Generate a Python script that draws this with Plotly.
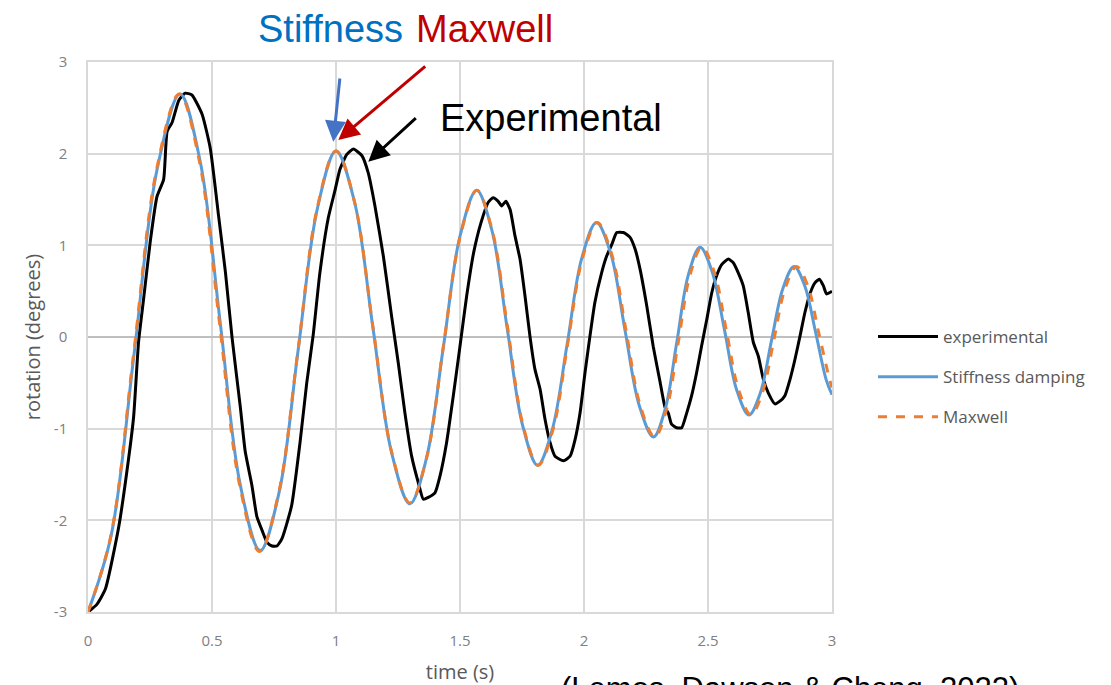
import plotly.graph_objects as go

# ---------------- data ----------------
exp_t = [0.000, 0.035, 0.070, 0.124, 0.164, 0.184, 0.204, 0.224, 0.251, 0.278, 0.305, 0.319, 0.339, 0.366,
         0.392, 0.419, 0.460, 0.493, 0.527, 0.554, 0.581, 0.614, 0.634, 0.661, 0.681, 0.702, 0.722, 0.742,
         0.762, 0.782, 0.821, 0.855, 0.882, 0.908, 0.935, 0.969, 0.996, 1.016, 1.043, 1.070, 1.104, 1.130,
         1.157, 1.191, 1.224, 1.251, 1.278, 1.305, 1.332, 1.352, 1.372, 1.399, 1.419, 1.446, 1.473, 1.500,
         1.527, 1.555, 1.585, 1.614, 1.634, 1.654, 1.668, 1.685, 1.702, 1.722, 1.742, 1.762, 1.782, 1.802,
         1.823, 1.843, 1.863, 1.883, 1.917, 1.944, 1.964, 1.984, 2.004, 2.024, 2.044, 2.071, 2.091, 2.112,
         2.132, 2.159, 2.185, 2.206, 2.226, 2.253, 2.279, 2.306, 2.327, 2.340, 2.353, 2.374, 2.394, 2.414,
         2.434, 2.454, 2.474, 2.495, 2.515, 2.535, 2.555, 2.582, 2.602, 2.622, 2.642, 2.662, 2.683, 2.703,
         2.723, 2.743, 2.770, 2.790, 2.810, 2.831, 2.851, 2.871, 2.891, 2.911, 2.931, 2.949, 2.965, 2.978,
         3.000]
exp_v = [-3.00, -2.92, -2.75, -2.07, -1.32, -0.87, -0.05, 0.41, 1.04, 1.53, 1.72, 2.24, 2.34, 2.58,
         2.66, 2.64, 2.43, 2.06, 1.31, 0.71, -0.01, -0.76, -1.25, -1.62, -1.96, -2.11, -2.24, -2.28,
         -2.28, -2.20, -1.84, -1.15, -0.50, 0.02, 0.70, 1.30, 1.60, 1.83, 1.99, 2.05, 1.98, 1.79,
         1.43, 0.88, 0.23, -0.28, -0.83, -1.30, -1.59, -1.77, -1.75, -1.70, -1.52, -1.15, -0.64, -0.10,
         0.45, 0.92, 1.25, 1.47, 1.52, 1.48, 1.43, 1.48, 1.39, 1.10, 0.85, 0.45, 0.01, -0.35,
         -0.57, -0.90, -1.15, -1.30, -1.35, -1.30, -1.12, -0.83, -0.39, 0.01, 0.38, 0.70, 0.88, 1.01,
         1.14, 1.14, 1.09, 0.96, 0.74, 0.34, -0.10, -0.48, -0.77, -0.83, -0.95, -0.99, -0.99, -0.83,
         -0.64, -0.39, -0.10, 0.19, 0.48, 0.67, 0.79, 0.85, 0.81, 0.70, 0.56, 0.27, -0.06, -0.21,
         -0.46, -0.61, -0.73, -0.70, -0.64, -0.46, -0.24, 0.01, 0.27, 0.47, 0.59, 0.63, 0.56, 0.47,
         0.50]

stiff_t = [0.000, 0.093, 0.186, 0.278, 0.371, 0.452, 0.533, 0.613, 0.694, 0.771, 0.847, 0.924, 1.000,
           1.075, 1.149, 1.224, 1.298, 1.365, 1.433, 1.500, 1.567, 1.629, 1.690, 1.752, 1.813, 1.872,
           1.932, 1.991, 2.050, 2.108, 2.165, 2.223, 2.280, 2.327, 2.374, 2.421, 2.468, 2.517, 2.567,
           2.616, 2.665, 2.711, 2.756, 2.802, 2.847, 2.890, 2.934, 2.977, 3.000]
stiff_v = [-3.00, -2.17, -0.18, 1.82, 2.65, 1.92, 0.16, -1.60, -2.33, -1.69, -0.15, 1.39, 2.03,
           1.47, 0.10, -1.26, -1.82, -1.32, -0.11, 1.10, 1.60, 1.16, 0.10, -0.96, -1.40, -1.01,
           -0.08, 0.86, 1.25, 0.91, 0.08, -0.75, -1.09, -0.79, -0.06, 0.68, 0.98, 0.71, 0.07,
           -0.58, -0.85, -0.61, -0.04, 0.53, 0.77, 0.56, 0.05, -0.47, -0.63]

maxw_t = [0.000, 0.092, 0.184, 0.276, 0.368, 0.449, 0.530, 0.611, 0.692, 0.769, 0.846, 0.923, 1.000,
          1.075, 1.149, 1.224, 1.298, 1.366, 1.433, 1.501, 1.568, 1.630, 1.692, 1.754, 1.815, 1.875,
          1.934, 1.994, 2.053, 2.111, 2.169, 2.227, 2.285, 2.333, 2.380, 2.428, 2.475, 2.525, 2.574,
          2.624, 2.673, 2.719, 2.765, 2.811, 2.857, 2.902, 2.946, 2.991, 3.000]
maxw_v = [-3.00, -2.17, -0.18, 1.82, 2.65, 1.92, 0.16, -1.61, -2.34, -1.70, -0.16, 1.39, 2.03,
          1.47, 0.11, -1.25, -1.81, -1.31, -0.10, 1.10, 1.60, 1.16, 0.10, -0.96, -1.40, -1.01,
          -0.08, 0.86, 1.25, 0.91, 0.08, -0.75, -1.09, -0.79, -0.06, 0.68, 0.98, 0.71, 0.07,
          -0.58, -0.85, -0.61, -0.04, 0.53, 0.77, 0.56, 0.05, -0.47, -0.55]

x_ticks = [0, 0.5, 1, 1.5, 2, 2.5, 3]
x_tick_labels = ["0", "0.5", "1", "1.5", "2", "2.5", "3"]
y_ticks = [-3, -2, -1, 0, 1, 2, 3]
y_tick_labels = ["-3", "-2", "-1", "0", "1", "2", "3"]

series_names = ["experimental", "Stiffness damping", "Maxwell"]

# ---------------- figure ----------------
W, H = 1111, 685
L, R, T, B = 88, 832, 62, 612  # plot area in px


def px(xp):
    return (xp - L) / (R - L)


def py(yp):
    return (B - yp) / (B - T)


GRID = "#d9d9d9"
SANS = "Open Sans, Liberation Sans, sans-serif"
TICKFONT = dict(family=SANS, size=15, color="#7f7f7f")

fig = go.Figure()
fig.add_trace(go.Scatter(x=exp_t, y=exp_v, mode="lines", name=series_names[0], legendgroup="a",
                         line=dict(color="#000000", width=3, shape="spline", smoothing=0.5)))
fig.add_trace(go.Scatter(x=stiff_t, y=stiff_v, mode="lines", name=series_names[1], legendgroup="b",
                         line=dict(color="#5b9bd5", width=3, shape="spline", smoothing=1.0)))
fig.add_trace(go.Scatter(x=maxw_t, y=maxw_v, mode="lines", name=series_names[2], legendgroup="c",
                         line=dict(color="#ed7d31", width=3, dash="dash", shape="spline", smoothing=1.0)))

fig.update_layout(
    width=W, height=H,
    margin=dict(l=L, r=W - R, t=T, b=H - B, pad=0, autoexpand=False),
    paper_bgcolor="white", plot_bgcolor="white",
    showlegend=True,
    legend=dict(x=px(873), y=py(319), xanchor="left", yanchor="top",
                font=dict(family=SANS, size=17, color="#595959"),
                tracegroupgap=15, itemwidth=60, bgcolor="rgba(0,0,0,0)"),
    xaxis=dict(range=[0, 3], tickmode="array", tickvals=x_ticks, ticktext=x_tick_labels,
               showgrid=True, gridcolor=GRID, gridwidth=1.5, zeroline=False, automargin=False,
               showline=True, linecolor=GRID, linewidth=1.5, mirror=True,
               ticks="", tickfont=TICKFONT, ticklabelstandoff=14,
               title=dict(text="time (s)", font=dict(family=SANS, size=20, color="#595959"), standoff=16)),
    yaxis=dict(range=[-3, 3], tickmode="array", tickvals=y_ticks, ticktext=y_tick_labels,
               showgrid=True, gridcolor=GRID, gridwidth=1.5, zeroline=True, zerolinecolor="#bfbfbf",
               zerolinewidth=1.5, automargin=False,
               showline=True, linecolor=GRID, linewidth=1.5, mirror=True,
               ticks="", tickfont=TICKFONT, ticklabelstandoff=16,
               title=dict(text="rotation (degrees)", font=dict(family=SANS, size=20, color="#595959"),
                          standoff=8)),
)

BIG = "Liberation Sans, Arial, sans-serif"
# titles
fig.add_annotation(xref="paper", yref="paper", x=px(330.5), y=py(29), text="Stiffness", showarrow=False,
                   xanchor="center", yanchor="middle", font=dict(family=BIG, size=38, color="#0070c0"))
fig.add_annotation(xref="paper", yref="paper", x=px(484), y=py(29), text="Maxwell", showarrow=False,
                   xanchor="center", yanchor="middle", font=dict(family=BIG, size=38, color="#c00000"))
fig.add_annotation(xref="paper", yref="paper", x=px(551), y=py(118), text="Experimental", showarrow=False,
                   xanchor="center", yanchor="middle", font=dict(family=BIG, size=38, color="#000000"))
fig.add_annotation(xref="paper", yref="paper", x=px(790), y=py(669), text="(Lemos, Dawson &amp; Cheng, 2022)",
                   showarrow=False, xanchor="center", yanchor="top",
                   font=dict(family=BIG, size=31, color="#000000"))

# arrows
arrows = [((333.3, 141.7), (340, 77), "#4472c4"),
          ((338.3, 140.0), (426.7, 65), "#c00000"),
          ((368.3, 161.7), (417.3, 116.7), "#000000")]
for (tx, ty), (sx, sy), col in arrows:
    fig.add_annotation(xref="paper", yref="paper", x=px(tx), y=py(ty),
                       axref="pixel", ayref="pixel", ax=sx - tx, ay=sy - ty,
                       text="", showarrow=True, arrowhead=2, arrowsize=1.4, arrowwidth=3,
                       arrowcolor=col, standoff=0)

fig.write_html("out.html", config={"displayModeBar": False},
               post_script="document.body.style.margin='0';")
